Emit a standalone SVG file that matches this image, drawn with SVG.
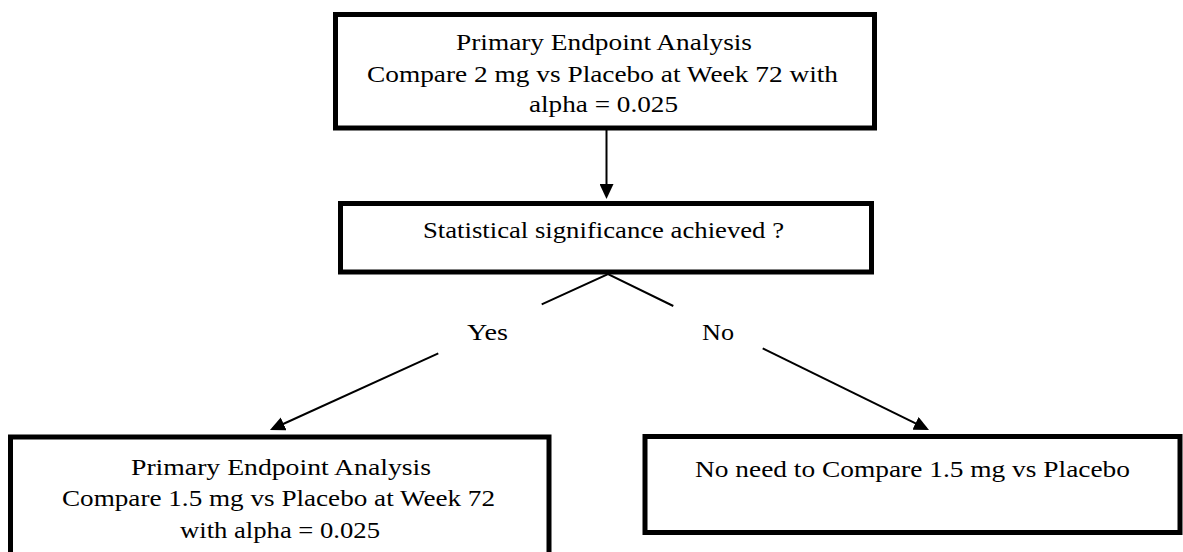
<svg xmlns="http://www.w3.org/2000/svg" width="1183" height="552" viewBox="0 0 1183 552">
  <style>
    .box { fill: #ffffff; stroke: #000000; stroke-width: 5; }
    .txt { font-family: 'Times New Roman', 'Liberation Serif', Tinos, serif; font-size: 24px; fill: #000000; text-anchor: middle; }
    .conn { stroke: #000000; stroke-width: 2; fill: none; }
  </style>
  <defs>
    <marker id="ah" markerWidth="16" markerHeight="14" refX="12" refY="7" orient="auto" markerUnits="userSpaceOnUse">
      <path d="M0,0 L15,7 L0,14 z" fill="#000000"/>
    </marker>
  </defs>
  <rect width="1183" height="552" fill="#ffffff"/>

  <g id="connectors">
    <line class="conn" x1="606.5" y1="130" x2="606.5" y2="196" marker-end="url(#ah)"/>
    <polyline class="conn" points="541.7,304.3 608,274 673.3,306"/>
    <line class="conn" x1="438.3" y1="353.3" x2="272.7" y2="428.75" marker-end="url(#ah)"/>
    <line class="conn" x1="762.7" y1="348.3" x2="926.3" y2="428.7" marker-end="url(#ah)"/>
  </g>

  <g id="node-primary-2mg" font-family="Liberation Serif, serif">
    <rect class="box" x="335.5" y="14.5" width="539" height="113.5"/>
    <text class="txt" x="604" y="50" textLength="296" lengthAdjust="spacingAndGlyphs">Primary Endpoint Analysis</text>
    <text class="txt" x="602.5" y="82" textLength="471" lengthAdjust="spacingAndGlyphs">Compare 2 mg vs Placebo at Week 72 with</text>
    <text class="txt" x="603.5" y="112" textLength="149" lengthAdjust="spacingAndGlyphs">alpha = 0.025</text>
  </g>

  <g id="node-significance">
    <rect class="box" x="340.5" y="203.5" width="531" height="68.5"/>
    <text class="txt" x="603.5" y="238" textLength="361" lengthAdjust="spacingAndGlyphs">Statistical significance achieved ?</text>
  </g>

  <g id="label-yes">
    <text class="txt" x="487.5" y="340" textLength="41" lengthAdjust="spacingAndGlyphs">Yes</text>
  </g>
  <g id="label-no">
    <text class="txt" x="718" y="340" textLength="32" lengthAdjust="spacingAndGlyphs">No</text>
  </g>

  <g id="node-primary-15mg">
    <rect class="box" x="10.5" y="437" width="538.5" height="130"/>
    <text class="txt" x="281" y="475" textLength="300" lengthAdjust="spacingAndGlyphs">Primary Endpoint Analysis</text>
    <text class="txt" x="278.5" y="506" textLength="433" lengthAdjust="spacingAndGlyphs">Compare 1.5 mg vs Placebo at Week 72</text>
    <text class="txt" x="280" y="538" textLength="200" lengthAdjust="spacingAndGlyphs">with alpha = 0.025</text>
  </g>

  <g id="node-no-need">
    <rect class="box" x="645" y="436.5" width="535" height="96"/>
    <text class="txt" x="912.5" y="477" textLength="435" lengthAdjust="spacingAndGlyphs">No need to Compare 1.5 mg vs Placebo</text>
  </g>
</svg>
